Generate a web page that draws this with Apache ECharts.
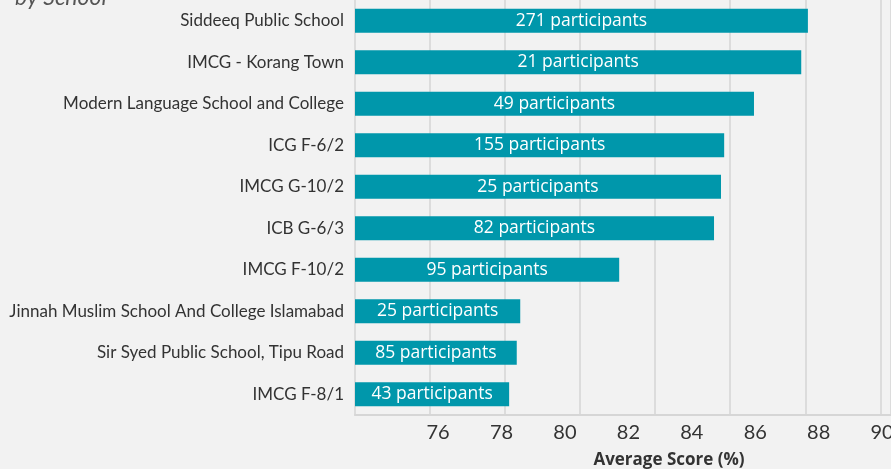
<!DOCTYPE html>
<html>
<head>
<meta charset="utf-8">
<script src="https://cdn.jsdelivr.net/npm/echarts@6/dist/echarts.min.js"></script>
<style>
  html, body { margin: 0; padding: 0; background: #f2f2f2; }
  #chart { width: 891px; height: 469px; }
</style>
</head>
<body>
<div id="chart"></div>
<script>
// schools, bottom to top (category axis draws first item at the bottom)
const schools = [
  "IMCG F-8/1",
  "Sir Syed Public School, Tipu Road",
  "Jinnah Muslim School And College Islamabad",
  "IMCG F-10/2",
  "ICB G-6/3",
  "IMCG G-10/2",
  "ICG F-6/2",
  "Modern Language School and College",
  "IMCG - Korang Town",
  "Siddeeq Public School",
];
const scores = [78.24, 78.48, 78.59, 81.71, 84.7, 84.92, 85.02, 85.96, 87.45, 87.66];
const participants = [43, 85, 25, 95, 82, 25, 155, 49, 21, 271];
const tickValues = [76, 78, 80, 82, 84, 86, 88, 90];

var chartDom = document.getElementById("chart");
var mychart = echarts.init(chartDom);

var option = {
  backgroundColor: "#f2f2f2",
  animation: false,
  title: {
    text: "by School",
    left: 10,
    top: -19,
    textStyle: {
      fontFamily: "Lato",
      fontStyle: "italic",
      fontWeight: "normal",
      fontSize: 23,
      color: "#555",
    },
  },
  grid: {
    left: 355,
    right: 0,
    top: 0,
    bottom: 54,
    containLabel: false,
    outerBoundsMode: "none",
  },
  xAxis: [
    {
      // value axis carrying the labels
      type: "value",
      min: 73.38,
      max: 90.28,
      position: "bottom",
      axisLine: { show: true, lineStyle: { color: "#d6d6d6", width: 2 } },
      axisTick: { show: false },
      splitLine: { show: false },
      axisLabel: {
        customValues: tickValues,
        fontFamily: "Lato",
        fontSize: 20,
        color: "#333",
        margin: 8,
      },
      name: "Average Score (%)",
      nameLocation: "middle",
      nameGap: 37,
      nameTextStyle: {
        fontFamily: "Open Sans",
        fontWeight: "bold",
        fontSize: 17,
        color: "#333",
        padding: [0, 0, 0, 92],
      },
    },
    {
      // grid lines only
      type: "value",
      min: 74,
      max: 88.285,
      interval: 2,
      position: "bottom",
      axisLine: { show: false },
      axisTick: { show: false },
      axisLabel: { show: false },
      splitLine: { show: true, lineStyle: { color: "#dcdcdc", width: 2 } },
    },
  ],
  yAxis: {
    type: "category",
    data: schools,
    axisLine: { show: true, lineStyle: { color: "#dcdcdc", width: 2 } },
    axisTick: { show: false },
    axisLabel: {
      fontFamily: "Lato",
      fontSize: 17,
      color: "#333",
      margin: 11,
    },
  },
  series: [
    {
      type: "bar",
      xAxisIndex: 0,
      data: scores,
      barWidth: 24,
      itemStyle: { color: "#0097ab" },
      label: {
        show: true,
        position: "inside",
        formatter: (p) => participants[p.dataIndex] + " participants",
        fontFamily: "Open Sans",
        fontSize: 17.5,
        color: "#fff",
      },
    },
  ],
};

mychart.setOption(option);
</script>
</body>
</html>
